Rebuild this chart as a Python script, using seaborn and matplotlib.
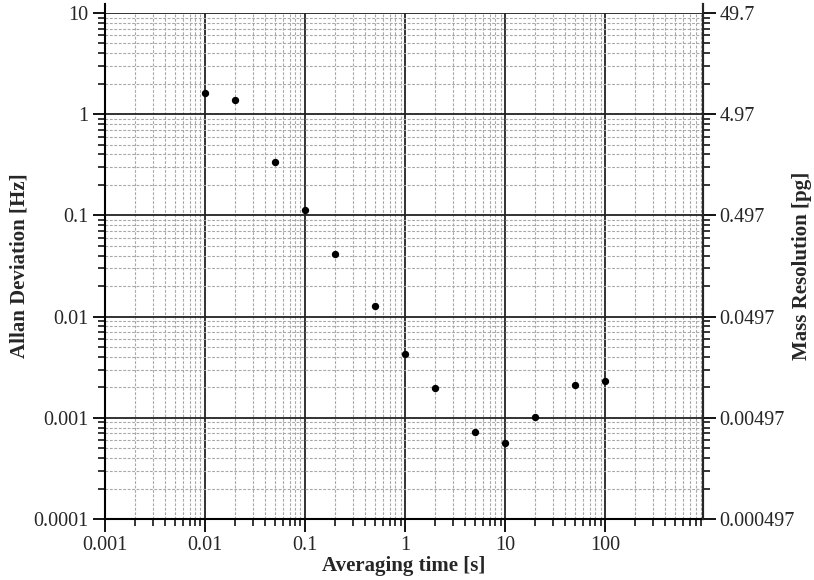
import numpy as np
import pandas as pd
import matplotlib
matplotlib.use("Agg")
import matplotlib.pyplot as plt
import seaborn as sns
from matplotlib.ticker import LogLocator, FixedLocator, FixedFormatter, NullFormatter

tau = [0.01, 0.02, 0.05, 0.1, 0.2, 0.5, 1, 2, 5, 10, 20, 50, 100]
adev = [1.63, 1.37, 0.34, 0.112, 0.042, 0.0127, 0.0043, 0.00197, 0.00072, 0.00056, 0.00102, 0.0021, 0.0023]
x_ticks = [0.001, 0.01, 0.1, 1, 10, 100]
x_labels = ["0.001", "0.01", "0.1", "1", "10", "100"]
y_ticks = [0.0001, 0.001, 0.01, 0.1, 1, 10]
y_labels = ["0.0001", "0.001", "0.01", "0.1", "1", "10"]
right_labels = ["0.000497", "0.00497", "0.0497", "0.497", "4.97", "49.7"]

sns.set_style("white")
plt.rcParams['font.family'] = ['Liberation Serif', 'DejaVu Serif']
plt.rcParams['mathtext.default'] = 'regular'

df = pd.DataFrame({"tau": tau, "adev": adev})

fig = plt.figure(figsize=(8.14, 5.8), dpi=100)
ax = fig.add_axes([105/814, 61/580, 598/814, 506/580])

sns.scatterplot(data=df, x="tau", y="adev", ax=ax, color="black", s=28,
                edgecolor="black", linewidth=0, zorder=5)
ax.set_xscale("log")
ax.set_yscale("log")
ax.set_xlim(0.001, 950)
ax.set_ylim(0.0001, 10)

ax.xaxis.set_major_locator(FixedLocator(x_ticks))
ax.xaxis.set_major_formatter(FixedFormatter(x_labels))
ax.xaxis.set_minor_locator(LogLocator(base=10, subs=np.arange(2, 10), numticks=20))
ax.xaxis.set_minor_formatter(NullFormatter())
ax.yaxis.set_major_locator(FixedLocator(y_ticks))
ax.yaxis.set_major_formatter(FixedFormatter(y_labels))
ax.yaxis.set_minor_locator(LogLocator(base=10, subs=np.arange(2, 10), numticks=20))
ax.yaxis.set_minor_formatter(NullFormatter())

ax.grid(which="major", color="#222222", linewidth=1.3, linestyle="-")
ax.grid(which="minor", color="#a8a8a8", linewidth=0.8, linestyle=(0, (2.5, 1.5)))
ax.set_axisbelow(True)

ax.tick_params(which="major", direction="out", length=9, width=1.3, labelsize=14.5, color="black", pad=3)
ax.tick_params(which="minor", direction="out", length=5, width=1.1, color="black")
ax.tick_params(axis="x", which="both", bottom=True, top=False)
ax.tick_params(axis="y", which="both", left=True, right=False)

ax.spines["top"].set_visible(False)
for s in ["left", "bottom", "right"]:
    ax.spines[s].set_color("black")
    ax.spines[s].set_linewidth(1.5)
ax.spines["left"].set_bounds(0.0001, 10**1.09)
ax.spines["right"].set_bounds(0.0001, 10**1.09)

ax.set_xlabel("Averaging time [s]", fontsize=15, fontweight="bold", labelpad=1)
ax.set_ylabel("Allan Deviation [Hz]", fontsize=15, fontweight="bold")
ax.yaxis.set_label_coords((29 - 105) / 598, 0.5)

ax2 = ax.twinx()
ax2.set_yscale("log")
ax2.set_ylim(0.0001, 10)
ax2.yaxis.set_major_locator(FixedLocator(y_ticks))
ax2.yaxis.set_major_formatter(FixedFormatter(right_labels))
ax2.yaxis.set_minor_locator(LogLocator(base=10, subs=np.arange(2, 10), numticks=20))
ax2.yaxis.set_minor_formatter(NullFormatter())
ax2.tick_params(which="major", direction="out", length=9, width=1.3, labelsize=14.5, color="black", pad=3)
ax2.tick_params(which="minor", direction="out", length=5, width=1.1, color="black")
for s in ["top", "left", "bottom"]:
    ax2.spines[s].set_visible(False)
ax2.spines["right"].set_linewidth(1.5)
ax2.spines["right"].set_bounds(0.0001, 10**1.09)
ax2.set_ylabel("Mass Resolution [pg]", fontsize=15, fontweight="bold")
ax2.yaxis.set_label_coords((792 - 105) / 598, 0.5)

fig.savefig("out.png", dpi=100)
